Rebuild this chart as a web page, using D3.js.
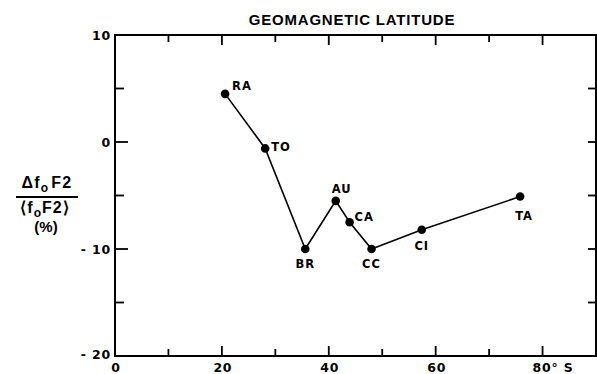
<!DOCTYPE html>
<html><head><meta charset="utf-8">
<script src="https://cdn.jsdelivr.net/npm/d3@7"></script>
<style>body{margin:0;background:#fff}svg{display:block}text{font-family:"Liberation Sans",Arial,sans-serif;fill:#000;font-weight:bold}.dv{font-family:"DejaVu Sans",sans-serif}</style>
</head><body>
<svg id="c" width="597" height="374"></svg>
<script>
const stations = ["RA","TO","BR","AU","CA","CC","CI","TA"];
const latitude = [20.6, 28.1, 35.6, 41.3, 43.9, 48.0, 57.4, 75.8];
const deltaF = [4.5, -0.6, -10.0, -5.5, -7.5, -10.0, -8.2, -5.1];
const xTicks = [0,20,40,60,80];
const xTickLabels = ["0","20","40","60","80° S"];
const yTicks = [10,0,-10,-20];
const yTickLabels = ["10","0","- 10","- 20"];

// label placement (styling): anchor, dx, dy
const labelLayout = [["start",7,-4],["start",6,3],["middle",0,19],["middle",6,-8],["start",5,-1],["middle",0,19],["middle",0,20],["middle",4,23]];

const svg = d3.select("#c");
const x = d3.scaleLinear().domain([0,90]).range([115,596]);
const y = d3.scaleLinear().domain([-20,10]).range([356,35]);

const g = svg.append("g");
g.append("rect").attr("x",x(0)).attr("y",y(10)).attr("width",x(90)-x(0)).attr("height",y(-20)-y(10))
 .attr("fill","none").attr("stroke","#000").attr("stroke-width",2);

d3.range(10,90,10).forEach(v=>{
  const L = v%20===0?10:7;
  g.append("line").attr("x1",x(v)).attr("x2",x(v)).attr("y1",y(-20)).attr("y2",y(-20)-L).attr("stroke","#000").attr("stroke-width",1.8);
  g.append("line").attr("x1",x(v)).attr("x2",x(v)).attr("y1",y(10)).attr("y2",y(10)+L).attr("stroke","#000").attr("stroke-width",1.8);
});
d3.range(-15,10,5).forEach(v=>{
  const L = v%10===0?13:9;
  g.append("line").attr("x1",x(0)).attr("x2",x(0)+L).attr("y1",y(v)).attr("y2",y(v)).attr("stroke","#000").attr("stroke-width",1.8);
  g.append("line").attr("x1",x(90)).attr("x2",x(90)-8).attr("y1",y(v)).attr("y2",y(v)).attr("stroke","#000").attr("stroke-width",1.8);
});

xTicks.forEach((v,i)=>{
  g.append("text").attr("class","dv").attr("x",x(v)+(i===4?-10:1)).attr("y",372).attr("font-size",12.5).attr("letter-spacing",0.8)
    .attr("text-anchor", i===4?"start":"middle").text(xTickLabels[i]);
});
yTicks.forEach((v,i)=>{
  g.append("text").attr("class","dv").attr("x",x(0)-4).attr("y",y(v)+(v===-20?3:5)).attr("font-size",12.5).attr("letter-spacing",0.8)
    .attr("text-anchor","end").text(yTickLabels[i]);
});

svg.append("text").attr("x",352).attr("y",25).attr("font-size",15).attr("letter-spacing",0.8)
  .attr("text-anchor","middle").text("GEOMAGNETIC LATITUDE");

const yl = svg.append("g").attr("font-size",16);
const t1 = yl.append("text").attr("x",47).attr("y",188).attr("text-anchor","middle").attr("letter-spacing",1.2);
t1.append("tspan").text("Δf");
t1.append("tspan").attr("font-size",12).attr("dy",4).text("o");
t1.append("tspan").attr("dy",-4).attr("dx",2).text("F2");
yl.append("line").attr("x1",16).attr("x2",78).attr("y1",197).attr("y2",197).attr("stroke","#000").attr("stroke-width",1.8);
const t2 = yl.append("text").attr("x",45).attr("y",212.5).attr("text-anchor","middle").attr("letter-spacing",1);
t2.append("tspan").text("⟨f");
t2.append("tspan").attr("font-size",12).attr("dy",4).text("o");
t2.append("tspan").attr("dy",-4).text("F2⟩");
yl.append("text").attr("x",46).attr("y",232).attr("text-anchor","middle").attr("font-size",15).text("(%)");

const data = stations.map((s,i)=>({s, lat:latitude[i], v:deltaF[i], L:labelLayout[i]}));
svg.append("path").datum(data).attr("fill","none").attr("stroke","#000").attr("stroke-width",1.6)
  .attr("d", d3.line().x(d=>x(d.lat)).y(d=>y(d.v)));
svg.selectAll("circle.p").data(data).join("circle").attr("cx",d=>x(d.lat)).attr("cy",d=>y(d.v)).attr("r",4.3).attr("fill","#000");
svg.selectAll("text.lab").data(data).join("text").attr("class","dv").attr("font-size",11.5).attr("letter-spacing",1)
  .attr("x",d=>x(d.lat)+d.L[1]).attr("y",d=>y(d.v)+d.L[2])
  .attr("text-anchor",d=>d.L[0])
  .text(d=>d.s);
</script>
</body></html>
